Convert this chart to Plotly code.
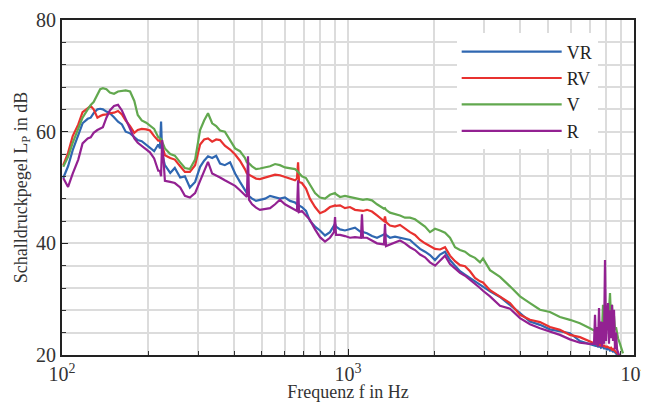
import plotly.graph_objects as go

# Frequency samples (Hz)
freq = [101, 105, 109, 114, 118, 123, 126, 129, 133, 136, 139, 143, 147, 152, 157, 162, 167, 173,
        179, 184, 190, 197, 203, 210, 217, 220, 222, 224, 229, 239, 248, 259, 269, 280, 292, 304,
        314, 324, 335, 346, 357, 371, 387, 403, 419, 436, 443, 447, 451, 462, 477, 492, 513, 534,
        556, 578, 602, 627, 653, 663, 669, 674, 690, 713, 736, 767, 798, 831, 865, 893, 901, 908,
        938, 976, 1016, 1058, 1110, 1119, 1128, 1165, 1213, 1263, 1336, 1347, 1358, 1402, 1460,
        1520, 1582, 1647, 1715, 1786, 1859, 1935, 2015, 2098, 2184, 2273, 2367, 2464, 2565, 2671,
        2780, 2895, 2965, 3137, 3400, 3685, 3994, 4328, 4691, 5084, 5510, 5971, 6471, 7013,
        7247, 7306, 7365, 7424, 7484, 7545, 7605, 7667, 7729, 7791, 7854, 7918, 7982, 8046, 8112,
        8177, 8243, 8310, 8378, 8445, 8513, 8582, 8652, 8722, 8792, 8934, 9152]

VR = [51.7, 53.8, 56.7, 59.3, 61.5, 62.3, 62.5, 63.3, 64.0, 64.1, 64.0, 63.6, 63.3, 62.6, 61.8, 61.3,
      60.0, 59.7, 59.0, 58.5, 58.3, 57.7, 57.2, 56.5, 57.7, 57.0, 61.8, 56.0, 54.0, 52.6, 53.5, 51.8,
      52.0, 50.0, 51.0, 53.7, 54.8, 55.6, 55.3, 55.7, 54.3, 54.0, 54.5, 52.5, 51.0, 49.7, 49.0, 48.6,
      48.4, 48.0, 47.6, 47.8, 48.0, 48.5, 48.3, 48.0, 48.2, 47.6, 47.3, 47.0, 47.2, 46.8, 46.5, 45.8,
      44.0, 43.0, 42.3, 41.4, 42.0, 43.3, 43.5, 43.0, 42.5, 42.3, 42.6, 42.8, 42.0, 42.3, 42.0, 41.8,
      41.3, 41.0, 41.6, 41.8, 41.5, 41.0, 41.2, 41.0, 40.9, 40.6, 39.8, 39.0, 38.5, 37.9, 37.0, 38.0,
      38.5, 37.0, 36.0, 35.0, 34.4, 33.8, 33.2, 32.5, 32.2, 31.4, 30.4, 29.0, 27.5, 26.0, 25.4, 24.6,
      24.2, 23.9, 22.5, 22.0,
      21.8, 21.7, 21.6, 21.8, 21.5, 21.5, 21.6, 21.3, 21.4, 21.5, 21.2, 21.2, 21.2, 21.0, 21.0,
      21.1, 20.8, 20.9, 20.8, 20.6, 20.7, 20.5, 20.3, 20.2, 20.0, 19.5, 18.8]

RV = [54.0, 56.2, 59.2, 61.3, 63.5, 64.3, 64.6, 64.0, 62.5, 62.8, 63.0, 63.1, 63.3, 63.4, 63.7, 63.1,
      62.0, 61.0, 59.8, 60.3, 60.5, 60.4, 60.2, 59.2, 58.4, 58.4, 58.5, 57.5, 55.8, 55.3, 55.0, 53.8,
      52.8, 52.8, 54.0, 57.7, 58.6, 58.8, 58.2, 58.6, 58.5, 57.5, 56.8, 55.9, 54.8, 53.3, 52.5, 52.4,
      52.3, 52.0, 51.6, 51.5, 51.8, 52.0, 52.3, 52.2, 51.9, 51.6, 51.3, 51.6, 54.5, 51.0, 50.8, 49.8,
      48.0, 46.5, 45.4, 45.8, 46.5, 46.7, 46.8, 46.7, 46.8, 46.3, 46.5, 46.0, 45.8, 45.7, 45.8, 46.0,
      45.7, 45.0, 44.0, 44.8, 43.8, 43.2, 43.0, 43.3, 42.6, 42.0, 41.5, 40.6, 40.0, 39.5, 39.0, 38.9,
      39.3, 37.8, 36.8, 36.1, 35.9, 35.0, 33.8, 33.2, 33.0, 31.6, 30.4, 29.3, 27.2, 26.3, 25.9, 25.0,
      24.5, 23.6, 23.2, 22.5,
      22.1, 22.0, 22.0, 21.9, 22.1, 21.8, 21.9, 21.7, 21.8, 21.6, 21.7, 21.5, 21.4, 21.5, 21.4,
      21.3, 21.2, 21.3, 21.0, 21.1, 20.9, 20.6, 20.5, 20.4, 20.2, 19.8, 19.0]

V = [53.7, 55.5, 58.0, 60.5, 62.5, 64.0, 64.8, 65.3, 66.5, 67.6, 67.8, 67.6, 67.0, 66.8, 67.2, 67.3,
     67.4, 67.2, 65.5, 63.0, 62.0, 61.6, 61.0, 60.5, 59.0, 58.8, 58.7, 58.2, 57.0, 56.0, 55.7, 54.5,
     53.5, 53.3, 55.0, 60.3, 62.0, 63.3, 61.5, 61.0, 60.2, 60.0, 58.5, 57.0, 56.5, 55.3, 54.5, 54.4,
     54.3, 53.8, 53.3, 53.4, 53.6, 53.8, 54.2, 54.0, 53.6, 53.4, 53.3, 53.0, 52.8, 52.5, 52.0, 51.7,
     50.5, 49.0, 48.2, 48.0, 48.7, 49.0, 49.0, 48.8, 48.3, 48.5, 48.3, 48.0, 47.8, 47.8, 47.8, 47.9,
     47.7, 47.0, 46.2, 46.3, 46.0, 45.5, 45.3, 45.0, 44.6, 44.6, 44.3, 43.6, 43.0, 42.0, 42.6, 42.3,
     41.9, 41.0, 39.3, 38.8, 38.5, 37.8, 37.4, 36.6, 37.3, 35.2, 34.0, 32.3, 30.5, 29.3, 28.1, 27.7,
     26.8, 26.3, 25.7, 24.8,
     24.5, 24.3, 24.6, 24.2, 24.4, 24.0, 24.3, 23.9, 24.2, 29.0, 24.0, 23.8, 24.5, 25.5, 27.0,
     28.0, 31.1, 26.5, 29.0, 25.5, 27.0, 24.5, 25.0, 23.5, 23.0, 22.0, 20.3]

R = [51.7, 50.1, 52.5, 55.0, 57.9, 58.8, 59.0, 59.8, 60.3, 60.5, 60.8, 62.5, 63.8, 64.6, 64.8, 63.8,
     62.3, 60.4, 58.8, 58.0, 57.4, 56.7, 56.3, 55.2, 53.0, 53.0, 52.0, 58.5, 51.2, 51.0, 50.8, 50.0,
     48.5, 48.2, 49.0, 51.2, 53.0, 54.6, 52.5, 52.2, 51.8, 51.3, 50.8, 50.3, 49.5, 48.6, 48.3, 55.6,
     47.8, 47.0, 46.4, 46.0, 46.2, 46.3, 47.0, 47.8, 47.0, 46.5, 46.0, 45.8, 51.3, 45.6, 45.8, 45.0,
     44.2, 42.5, 41.1, 40.3, 41.0, 42.0, 44.7, 41.5, 41.5, 41.3, 41.0, 41.1, 41.0, 45.2, 41.0, 41.0,
     40.5, 40.0, 39.8, 43.5, 39.5, 39.8, 40.1, 40.5, 40.0, 39.3, 38.8, 38.0, 37.5, 36.6, 36.0, 37.0,
     37.8, 36.3, 35.5, 34.7, 34.2, 33.5, 32.7, 32.0, 31.5, 30.5, 28.8, 28.3, 26.6, 25.5, 24.8, 24.2,
     23.6, 22.8, 22.2, 22.0,
     22.0, 27.2, 21.8, 25.0, 21.5, 28.4, 22.0, 26.0, 21.5, 25.9, 22.0, 37.0, 22.5, 27.0, 29.3,
     22.0, 28.0, 23.0, 29.0, 22.5, 28.1, 21.0, 24.0, 21.0, 20.5, 19.5, 18.0]

series_names = ["VR", "RV", "V", "R"]
series_vals = [VR, RV, V, R]
colors = ["#2f67b1", "#e8312f", "#62a84f", "#932192"]

x_major = [100, 1000, 10000]
x_major_text = ["10<sup>2</sup>", "10<sup>3</sup>", "10<sup>4</sup>"]
x_minor = [m * d for d in (100, 1000) for m in range(2, 10)]
y_major = [20, 40, 60, 80]

FONT = "Liberation Serif, DejaVu Serif, serif"
GRID = "#dcdcdc"

fig = go.Figure()
for name, vals, c in zip(series_names, series_vals, colors):
    fig.add_trace(go.Scatter(x=freq, y=vals, name=name, mode="lines",
                             line=dict(color=c, width=2.2)))

# page body has an 8px default margin, so the figure is sized/offset to compensate
fig.update_layout(
    width=641, height=394,
    margin=dict(l=54, r=15, t=12, b=47),
    plot_bgcolor="white", paper_bgcolor="white",
    font=dict(family=FONT, size=20, color="#333333"),
    showlegend=True,
    legend=dict(x=0.69, y=0.96, xanchor="left", yanchor="top",
                bgcolor="white", borderwidth=0, itemwidth=100,
                font=dict(family=FONT, size=18, color="#222222"),
                tracegroupgap=0),
)
fig.update_xaxes(
    type="log", range=[2, 4], automargin=False,
    tickvals=x_major, ticktext=x_major_text,
    ticks="inside", ticklen=6, tickwidth=1, tickcolor="#222",
    showgrid=True, gridcolor=GRID, gridwidth=1.5,
    showline=True, linecolor="#222", linewidth=2, mirror=True,
    minor=dict(tickvals=x_minor, ticks="inside", ticklen=4, tickcolor="#333",
               showgrid=True, gridcolor=GRID, gridwidth=1.5),
    title=dict(text="Frequenz f in Hz", font=dict(family=FONT, size=18, color="#333"), standoff=10),
    zeroline=False,
)
fig.update_yaxes(
    range=[20, 80], tickvals=y_major, automargin=False,
    ticks="inside", ticklen=6, tickwidth=1, tickcolor="#222",
    showgrid=True, gridcolor=GRID, gridwidth=1.5,
    showline=True, linecolor="#222", linewidth=2, mirror=True,
    minor=dict(dtick=4, ticks="inside", ticklen=4, tickcolor="#333",
               showgrid=True, gridcolor=GRID, gridwidth=1.5),
    title=dict(text="Schalldruckpegel L<sub>P</sub> in dB",
               font=dict(family=FONT, size=18, color="#333"), standoff=4),
    zeroline=False,
)

fig.write_html("out.html")
